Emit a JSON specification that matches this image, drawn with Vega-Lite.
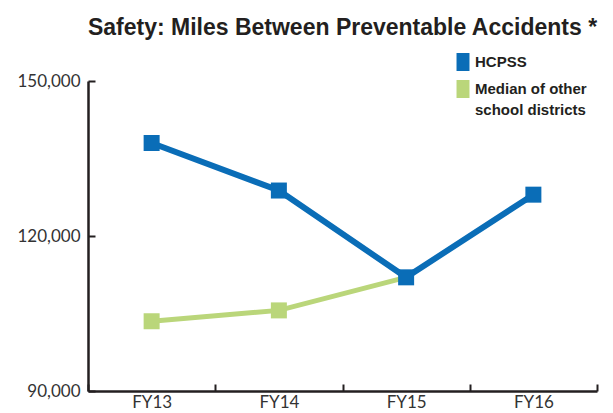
{
  "$schema": "https://vega.github.io/schema/vega-lite/v6.json",
  "autosize": "none",
  "width": 509,
  "height": 310,
  "padding": {"left": 88, "top": 81, "right": 16, "bottom": 22},
  "background": "white",
  "title": {
    "text": "Safety: Miles Between Preventable Accidents *",
    "font": "Liberation Sans",
    "fontWeight": "bold",
    "fontSize": 23,
    "color": "#231f20",
    "anchor": "middle",
    "frame": "group",
    "baseline": "alphabetic",
    "offset": -5
  },
  "data": {
    "values": [
      {"year": "FY13", "series": "HCPSS", "miles": 138000},
      {"year": "FY14", "series": "HCPSS", "miles": 128800},
      {"year": "FY15", "series": "HCPSS", "miles": 112000},
      {"year": "FY16", "series": "HCPSS", "miles": 128000},
      {"year": "FY13", "series": "Median of other school districts", "miles": 103500},
      {"year": "FY14", "series": "Median of other school districts", "miles": 105600},
      {"year": "FY15", "series": "Median of other school districts", "miles": 112000}
    ]
  },
  "config": {
    "view": {"stroke": null},
    "style": {"guide-label": {"lineHeight": 21}},
    "axis": {
      "domainColor": "#231f20",
      "domainWidth": 2.5,
      "tickColor": "#231f20",
      "tickWidth": 2,
      "grid": false,
      "labelFont": "Lato",
      "labelColor": "#333333",
      "title": null
    }
  },
  "encoding": {
    "x": {
      "field": "year",
      "type": "ordinal",
      "bandPosition": 0.5,
      "scale": {"type": "band", "paddingInner": 0, "paddingOuter": 0},
      "axis": {
        "labelAngle": 0,
        "labelFontSize": 17,
        "labelPadding": 10,
        "tickSize": -7,
        "tickBand": "extent",
        "title": null
      }
    },
    "y": {
      "field": "miles",
      "type": "quantitative",
      "scale": {"domain": [90000, 150000], "nice": false, "zero": false},
      "axis": {
        "values": [90000, 120000, 150000],
        "format": ",.0f",
        "labelFontSize": 17,
        "labelPadding": 15,
        "tickSize": -7,
        "title": null
      }
    },
    "color": {
      "field": "series",
      "type": "nominal",
      "scale": {
        "domain": ["HCPSS", "Median of other school districts"],
        "range": ["#0a6db7", "#bad67a"]
      },
      "legend": {
        "orient": "none",
        "legendX": 366,
        "legendY": -28,
        "padding": 0,
        "title": null,
        "symbolType": "M-0.72,-1H0.72V1H-0.72Z",
        "symbolSize": 324,
        "symbolStrokeWidth": 0,
        "symbolOpacity": 1,
        "labelFont": "Liberation Sans",
        "labelFontWeight": "bold",
        "labelFontSize": 15,
        "labelColor": "#231f20",
        "labelOffset": 3,
        "rowPadding": 9,
        "labelExpr": "datum.label == 'HCPSS' ? 'HCPSS' : ['Median of other', 'school districts']"
      }
    }
  },
  "layer": [
    {
      "transform": [{"filter": "datum.series != 'HCPSS'"}],
      "mark": {"type": "line", "strokeWidth": 5},
      "encoding": {}
    },
    {
      "transform": [{"filter": "datum.series != 'HCPSS' && datum.year != 'FY15'"}],
      "mark": {"type": "square", "size": 256, "opacity": 1, "filled": true},
      "encoding": {}
    },
    {
      "transform": [{"filter": "datum.series == 'HCPSS'"}],
      "mark": {"type": "line", "strokeWidth": 6},
      "encoding": {}
    },
    {
      "transform": [{"filter": "datum.series == 'HCPSS'"}],
      "mark": {"type": "square", "size": 256, "opacity": 1, "filled": true},
      "encoding": {}
    }
  ]
}
